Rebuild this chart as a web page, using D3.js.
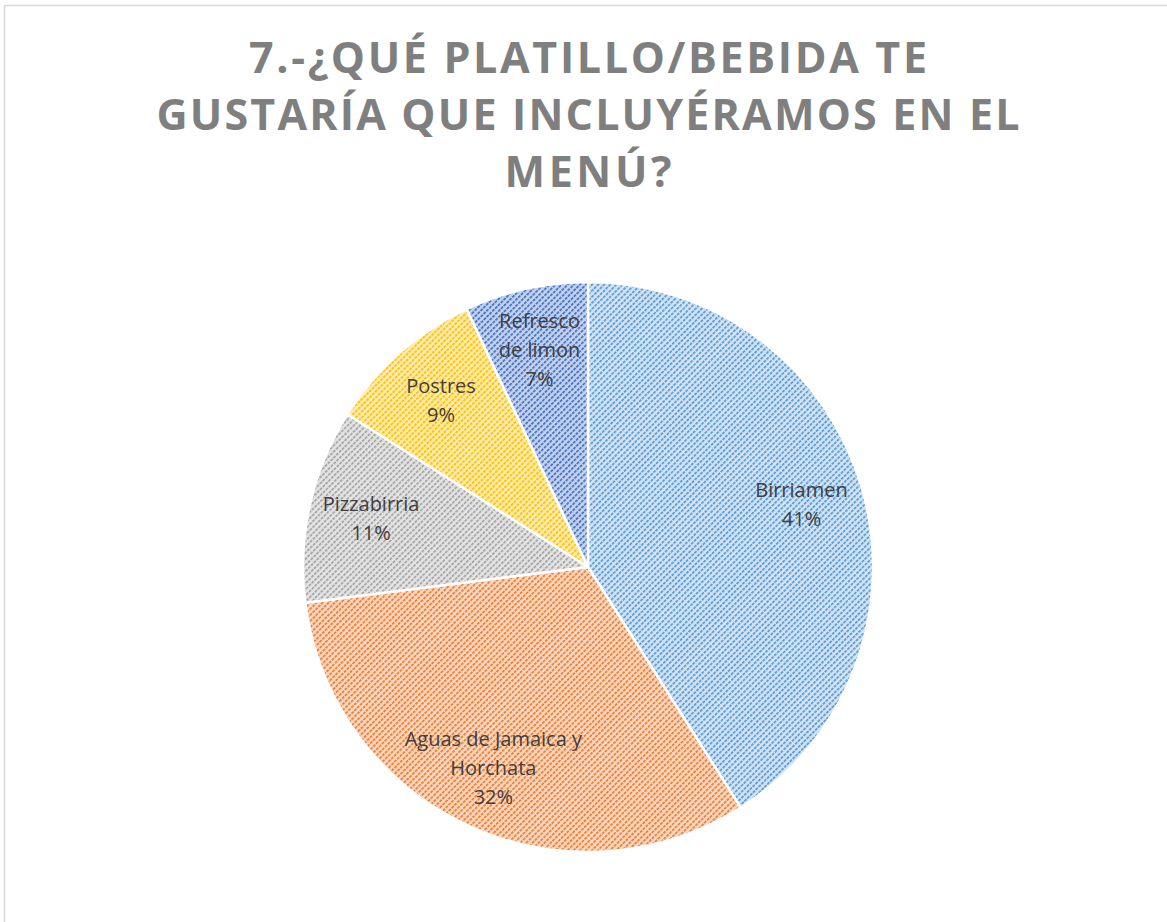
<!DOCTYPE html>
<html>
<head>
<meta charset="utf-8">
<script src="https://cdn.jsdelivr.net/npm/d3@7"></script>
<style>
  body { margin: 0; background: #fff; }
</style>
</head>
<body>
<script>
// chart data
var categories = ["Birriamen", "Aguas de Jamaica y\nHorchata", "Pizzabirria", "Postres", "Refresco\nde limon"];
var values = [41, 32, 11, 9, 7];
var titleLines = ["7.-¿QUÉ PLATILLO/BEBIDA TE", "GUSTARÍA QUE INCLUYÉRAMOS EN EL", "MENÚ?"];

// slice colours: line colour and light background
var lineColors = ["#5b9bd5", "#ed7d31", "#a5a5a5", "#ffc000", "#4472c4"];
var bgColors = ["#d3e4f5", "#fad8c2", "#e4e4e4", "#ffecb0", "#c6d3ee"];

var width = 1167, height = 922;
var cx = 588, cy = 567, radius = 285;

var svg = d3.select("body").append("svg")
  .attr("width", width).attr("height", height);

// outer chart frame
svg.append("rect")
  .attr("x", 4.5).attr("y", 5.5)
  .attr("width", width + 20).attr("height", height + 20)
  .attr("fill", "#fff").attr("stroke", "#d9d9d9").attr("stroke-width", 1.5);

// hatch patterns, dashed upward diagonals
var defs = svg.append("defs");
categories.forEach(function(c, i) {
  var p = defs.append("pattern")
    .attr("id", "hatch" + i)
    .attr("patternUnits", "userSpaceOnUse")
    .attr("width", 4.3).attr("height", 8)
    .attr("patternTransform", "rotate(45)");
  p.append("rect").attr("width", 4.3).attr("height", 8).attr("fill", bgColors[i]);
  p.append("line")
    .attr("x1", 1).attr("y1", 0).attr("x2", 1).attr("y2", 8)
    .attr("stroke", lineColors[i]).attr("stroke-width", 1.8)
    .attr("stroke-dasharray", "3,1");
});

// title
var titleSize = 43;
var titleWidths = [678, 863, 167];
svg.append("g").selectAll("text")
  .data(titleLines).enter().append("text")
  .attr("x", cx)
  .attr("y", function(d, i) { return 73 + i * 57; })
  .attr("text-anchor", "middle")
  .attr("textLength", function(d, i) { return titleWidths[i]; })
  .attr("lengthAdjust", "spacing")
  .style("font-family", "'Open Sans', sans-serif")
  .style("font-weight", "bold")
  .style("font-size", titleSize + "px")
  .style("fill", "#7f7f7f")
  .text(function(d) { return d; });

// pie
var pie = d3.pie().sort(null).value(function(d) { return d; });
var arcs = pie(values);
var arc = d3.arc().innerRadius(0).outerRadius(radius);
var labelArc = d3.arc().innerRadius(radius * 0.78).outerRadius(radius * 0.78);

var g = svg.append("g").attr("transform", "translate(" + cx + "," + cy + ")");

g.selectAll("path.slice")
  .data(arcs).enter().append("path")
  .attr("class", "slice")
  .attr("d", arc)
  .attr("fill", function(d, i) { return "url(#hatch" + i + ")"; })
  .attr("stroke", "#fff")
  .attr("stroke-width", 2.5)
  .attr("stroke-linejoin", "round");

// data labels: name lines + percent
var total = d3.sum(values);
var lineH = 29;
var labels = g.selectAll("text.lbl")
  .data(arcs).enter().append("text")
  .attr("class", "lbl")
  .attr("text-anchor", "middle")
  .style("font-family", "'Open Sans', sans-serif")
  .style("font-size", "20px")
  .style("fill", "#404040")
  .each(function(d, i) {
    var lines = categories[i].split("\n");
    lines.push(Math.round(d.data / total * 100) + "%");
    var c = labelArc.centroid(d);
    var y0 = c[1] - (lines.length - 1) * lineH / 2 + 7;
    var t = d3.select(this);
    lines.forEach(function(l, k) {
      t.append("tspan").attr("x", c[0]).attr("y", y0 + k * lineH).text(l);
    });
  });
</script>
</body>
</html>
